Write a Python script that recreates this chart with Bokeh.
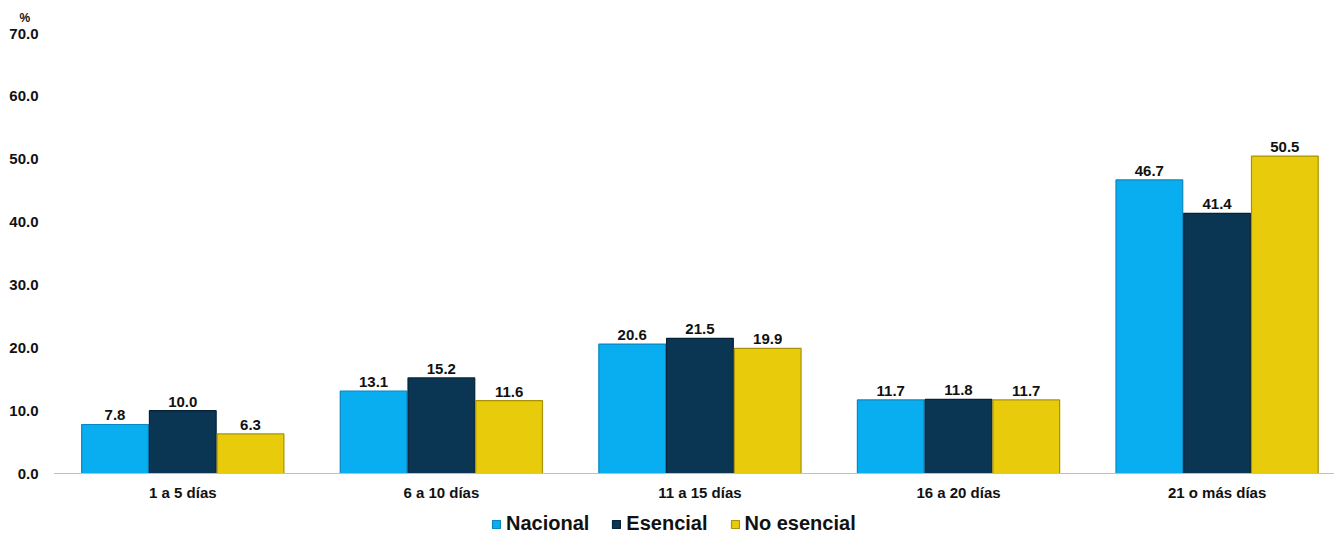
from bokeh.plotting import figure
from bokeh.models import ColumnDataSource, Range1d, Legend, LegendItem, Title, FixedTicker, PrintfTickFormatter, LabelSet
from bokeh.core.properties import value
from bokeh.embed import file_html
from bokeh.resources import INLINE

categories = ["1 a 5 días", "6 a 10 días", "11 a 15 días", "16 a 20 días", "21 o más días"]
series = ["Nacional", "Esencial", "No esencial"]
nacional = [7.8, 13.1, 20.6, 11.7, 46.7]
esencial = [10.0, 15.2, 21.5, 11.8, 41.4]
no_esencial = [6.3, 11.6, 19.9, 11.7, 50.5]
colors = ["#08AEF0", "#0A3654", "#E8CC0C"]
borders = ["#0A86C0", "#062238", "#A89208"]
y_ticks = [0, 10, 20, 30, 40, 50, 60, 70]

FONT = "Liberation Sans"

# frame extends below zero so that the category labels and legend live inside it
p = figure(frame_width=1281, frame_height=502, output_backend="svg", toolbar_location=None,
           x_range=Range1d(-0.5, 4.454), y_range=Range1d(-9.86, 70),
           min_border_left=53, min_border_right=0, min_border_top=33, min_border_bottom=0)
p.outline_line_color = None
p.xgrid.grid_line_color = None
p.ygrid.grid_line_color = None
p.background_fill_color = "white"

width = 0.262
offsets = [-width, 0, width]
renderers = []
for vals, off, c, b in zip([nacional, esencial, no_esencial], offsets, colors, borders):
    xs = [i + off for i in range(len(categories))]
    src = ColumnDataSource(dict(x=xs, top=vals, lab=[f"{v:.1f}" for v in vals]))
    r = p.vbar(x="x", top="top", bottom=0, width=width * 0.985, source=src, fill_color=c,
               line_color=b, line_width=1.2)
    renderers.append(r)
    lbl = LabelSet(x="x", y="top", text="lab", source=src, text_align="center",
                   text_baseline="bottom", y_offset=4, text_font=value(FONT),
                   text_font_style="bold", text_font_size="15px", text_color="#111111")
    p.add_layout(lbl)

p.xaxis.fixed_location = 0
p.xaxis.ticker = FixedTicker(ticks=list(range(len(categories))))
p.xaxis.major_label_overrides = {i: c for i, c in enumerate(categories)}
p.xaxis.major_tick_line_color = None
p.xaxis.minor_tick_line_color = None
p.xaxis.axis_line_color = "#BFBFBF"
p.xaxis.major_label_text_font = FONT
p.xaxis.major_label_text_font_style = "bold"
p.xaxis.major_label_text_font_size = "15px"
p.xaxis.major_label_text_color = "#111111"
p.xaxis.major_label_standoff = 4

p.yaxis.ticker = FixedTicker(ticks=y_ticks)
p.yaxis.formatter = PrintfTickFormatter(format="%.1f")
p.yaxis.axis_line_color = None
p.yaxis.major_tick_line_color = None
p.yaxis.minor_tick_line_color = None
p.yaxis.major_label_text_font = FONT
p.yaxis.major_label_text_font_style = "bold"
p.yaxis.major_label_text_font_size = "15px"
p.yaxis.major_label_text_color = "#111111"
p.yaxis.major_label_standoff = 9

pct = Title(text="%", align="left", offset=-34, text_font=FONT, text_font_style="bold",
            text_font_size="12px", text_color="#111111", standoff=17)
p.add_layout(pct, "above")

legend = Legend(items=[LegendItem(label=s, renderers=[r]) for s, r in zip(series, renderers)],
                orientation="horizontal", location=(438, 0), border_line_color=None,
                label_text_font=FONT, label_text_font_style="bold", label_text_font_size="20px",
                label_text_color="#111111", glyph_width=10, glyph_height=10, spacing=22,
                label_standoff=5, padding=0, margin=0, background_fill_alpha=0,
                label_height=18)
p.add_layout(legend)

open("out.html", "w").write(file_html(p, INLINE))
